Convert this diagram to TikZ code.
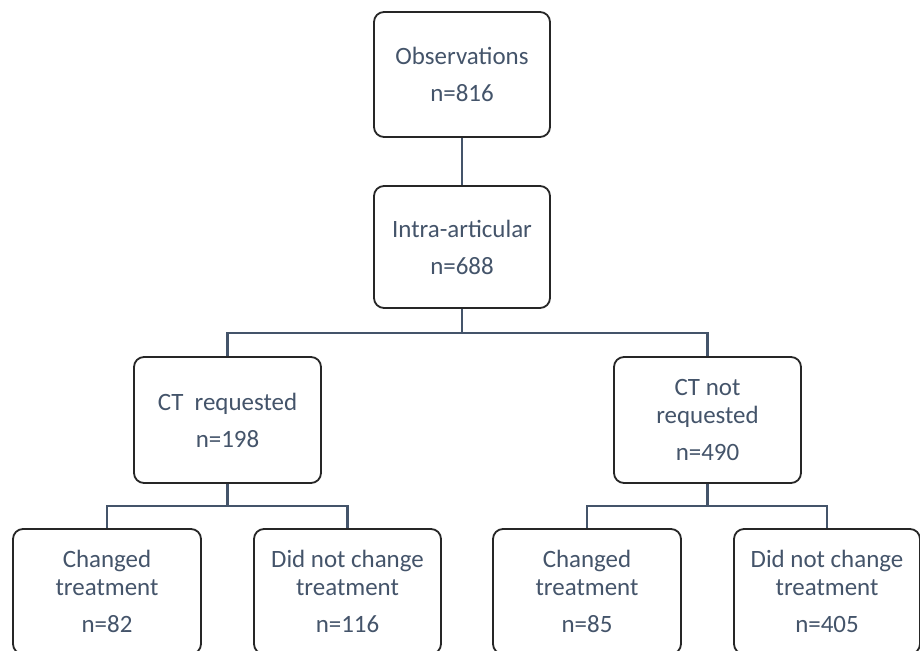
\documentclass[tikz,border=0pt]{standalone}
\usepackage{fontspec}
\setmainfont{Carlito}
\definecolor{txt}{HTML}{44546A}
\definecolor{conn}{HTML}{44546A}
\definecolor{edge}{HTML}{262626}
\begin{document}
\begin{tikzpicture}[x=0.75pt,y=-0.75pt,
  box/.style={draw=edge,line width=1.35pt,rounded corners=7.5pt,fill=white,
    align=center,text=txt,inner sep=0pt,
    font=\fontsize{18.7}{21}\selectfont},
  link/.style={draw=conn,line width=1.6pt}]
\useasboundingbox (0,0) rectangle (920,650);
\clip (0,0) rectangle (920,650);
\node[box,minimum width=132pt,minimum height=93.75pt] (obs) at (462,74.5) {Observations\\[6.75pt]n=816};
\node[box,minimum width=132pt,minimum height=91.5pt] (intra) at (462,247) {Intra-articular\\[6.75pt]n=688};
\node[box,minimum width=140.25pt,minimum height=94.5pt] (ctr) at (227.5,420) {CT\ \ requested\\[6.75pt]n=198};
\node[box,minimum width=140.25pt,minimum height=94.5pt] (ctn) at (707.5,420) {CT not\\requested\\[6.75pt]n=490};
\node[box,minimum width=141pt,minimum height=93.75pt] (b1) at (107,591.5) {Changed\\treatment\\[6.75pt]n=82};
\node[box,minimum width=140.25pt,minimum height=93.75pt] (b2) at (347.5,591.5) {Did not change\\treatment\\[6.75pt]n=116};
\node[box,minimum width=141pt,minimum height=93.75pt] (b3) at (587,591.5) {Changed\\treatment\\[6.75pt]n=85};
\node[box,minimum width=139.5pt,minimum height=93.75pt] (b4) at (827,591.5) {Did not change\\treatment\\[6.75pt]n=405};
\coordinate (j1) at (462,333);
\coordinate (j2) at (227.5,506);
\coordinate (j3) at (707.5,506);
\draw[link] (obs.south) -- (intra.north);
\draw[link] (intra.south) -- (j1) -| (ctr.north);
\draw[link] (j1) -| (ctn.north);
\draw[link] (ctr.south) -- (j2) -| (b1.north);
\draw[link] (j2) -| (b2.north);
\draw[link] (ctn.south) -- (j3) -| (b3.north);
\draw[link] (j3) -| (b4.north);
\end{tikzpicture}
\end{document}
